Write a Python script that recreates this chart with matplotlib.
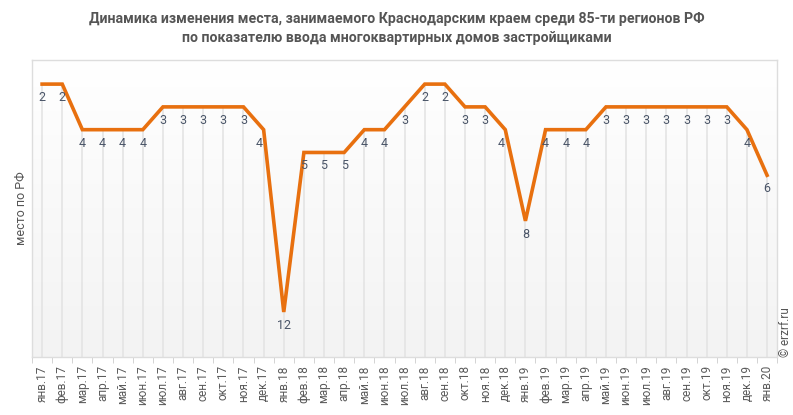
import matplotlib.pyplot as plt
import numpy as np

months = ["янв.17", "фев.17", "мар.17", "апр.17", "май.17", "июн.17", "июл.17", "авг.17",
          "сен.17", "окт.17", "ноя.17", "дек.17", "янв.18", "фев.18", "мар.18", "апр.18",
          "май.18", "июн.18", "июл.18", "авг.18", "сен.18", "окт.18", "ноя.18", "дек.18",
          "янв.19", "фев.19", "мар.19", "апр.19", "май.19", "июн.19", "июл.19", "авг.19",
          "сен.19", "окт.19", "ноя.19", "дек.19", "янв.20"]
places = [2, 2, 4, 4, 4, 4, 3, 3, 3, 3, 3, 4, 12, 5, 5, 5, 4, 4, 3, 2, 2, 3, 3, 4,
          8, 4, 4, 4, 3, 3, 3, 3, 3, 3, 3, 4, 6]

plt.rcParams['font.family'] = ['Roboto', 'DejaVu Sans']

fig = plt.figure(figsize=(7.93, 4.15), dpi=100)
ax = fig.add_axes([0.0404, 0.14, 0.9396, 0.715])

x = np.arange(len(months))
ymax = 13.97
ax.set_xlim(-0.5, len(months) - 0.5)
ax.set_ylim(ymax, 0.95)

# light gradient background
grad = np.linspace(0, 1, 100).reshape(-1, 1)
ax.imshow(grad, extent=(-0.5, len(months) - 0.5, ymax, 0.95), aspect='auto',
          cmap=plt.matplotlib.colors.LinearSegmentedColormap.from_list('g', ['#ffffff', '#f3f3f3']),
          zorder=0)

ax.vlines(x, places, ymax, color='#e4e4e4', lw=1.2, zorder=1)
ax.plot(x, places, color='#e8700f', lw=2.6, zorder=3, solid_joinstyle='miter')

for i, (xi, v) in enumerate(zip(x, places)):
    dx = 0
    # nudge labels on slopes a little to the left, like the original
    if 0 < i < len(places) - 1 and places[i + 1] > v + 2:
        dx = -3
    ax.annotate(str(v), (xi, v), xytext=(dx, -5), textcoords='offset points',
                ha='center', va='top', fontsize=9, color='#4a5568', zorder=4)

ax.set_xticks(x)
ax.set_xticklabels(months, rotation=90, fontsize=8.5, color='#5a5a5a')
ax.tick_params(axis='x', length=0, pad=6)
ax.set_xticks(np.arange(-0.5, len(months)), minor=True)
ax.tick_params(axis='x', which='minor', length=4, color='#cccccc')
ax.set_yticks([])
for s in ax.spines.values():
    s.set_color('#dddddd')
    s.set_linewidth(1)

ax.set_ylabel('место по РФ', fontsize=9, color='#555555', labelpad=3)

fig.text(0.5, 0.972, 'Динамика изменения места, занимаемого Краснодарским краем среди 85-ти регионов РФ\n'
         'по показателю ввода многоквартирных домов застройщиками',
         ha='center', va='top', fontsize=10.2, fontweight='bold', color='#555555', linespacing=1.45)
fig.text(0.99, 0.14, '© erzrf.ru', rotation=90, ha='center', va='bottom', fontsize=8.5, color='#555555')

fig.savefig('out.png', dpi=100)
